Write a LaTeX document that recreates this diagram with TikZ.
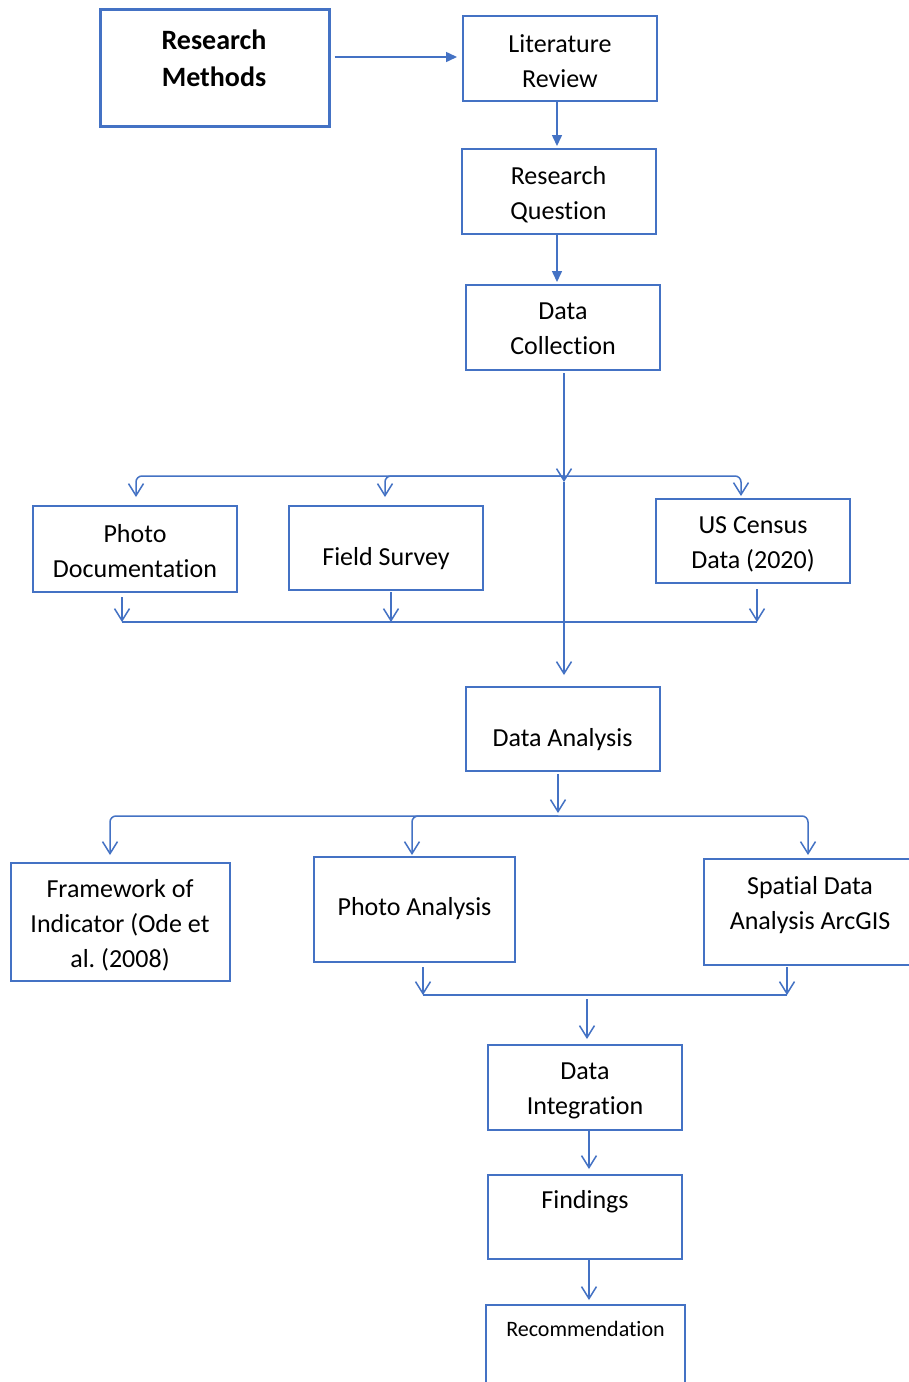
\documentclass[tikz,border=0pt]{standalone}
\usepackage{fontspec}
\setmainfont{Carlito}[Ligatures=NoCommon]
\usetikzlibrary{arrows.meta}
\definecolor{offblue}{RGB}{68,114,196}
\frenchspacing
\tikzset{
  box/.style={draw=offblue, line width=2pt, rectangle, inner sep=0pt},
  txt/.style={align=center, inner sep=0pt, font=\fontsize{26}{35}\selectfont, text=black},
  line/.style={draw=offblue, line width=1.5pt},
  fa/.style={line, -{Triangle[length=11pt,width=10pt]}},
  oa/.style={line, -{Straight Barb[length=12pt,width=15pt]}},
}
\begin{document}
\begin{tikzpicture}[x=1pt,y=-1pt]
\useasboundingbox[fill=white] (0,0) rectangle (909,1382);
% boxes
\node[box, line width=3pt, minimum width=229pt, minimum height=117pt] (rm) at (214.5,67.5) {};
\node[box, minimum width=194pt, minimum height=85pt] (lit) at (560,58.5) {};
\node[box, minimum width=194pt, minimum height=85pt] (rq) at (559,191.5) {};
\node[box, minimum width=194pt, minimum height=85pt] (dc) at (563,327.5) {};
\node[box, minimum width=204pt, minimum height=86pt] (pd) at (135,549) {};
\node[box, minimum width=194pt, minimum height=84pt] (fs) at (386,548) {};
\node[box, minimum width=194pt, minimum height=84pt] (us) at (753,541) {};
\node[box, minimum width=194pt, minimum height=84pt] (da) at (563,729) {};
\node[box, minimum width=219pt, minimum height=118pt] (fw) at (120.5,922) {};
\node[box, minimum width=201pt, minimum height=105pt] (pa) at (414.5,909.5) {};
\node[box, minimum width=209pt, minimum height=106pt] (sp) at (808.5,912) {};
\node[box, minimum width=194pt, minimum height=85pt] (di) at (585,1087.5) {};
\node[box, minimum width=194pt, minimum height=84pt] (fi) at (585,1217) {};
\node[box, minimum width=199pt, minimum height=90pt] (rec) at (585.5,1350) {};
% texts
\node[txt, font=\fontsize{28}{37}\selectfont\bfseries] (rmt) at (214,58) {Research\\Methods};
\node[txt] (litt) at (560,61.5) {Literature\\Review};
\node[txt] (rqt) at (558.5,194.5) {Research\\Question};
\node[txt] (dct) at (563,329) {Data\\Collection};
\node[txt] (pdt) at (135,551.5) {Photo\\Documentation};
\node[txt] (fst) at (386,559) {Field Survey};
\node[txt] (ust) at (753,544.5) {US Census\\Data (2020)};
\node[txt] (dat) at (562.5,740) {Data Analysis};
\node[txt] (fwt) at (120,925.5) {Framework of\\Indicator (Ode et\\al. (2008)};
\node[txt] (pat) at (414.5,909) {Photo Analysis};
\node[txt] (spt) at (810,905.5) {Spatial Data\\Analysis ArcGIS};
\node[txt] (dit) at (585,1090.5) {Data\\Integration};
\node[txt] (fit) at (585,1202) {Findings};
\node[txt, font=\fontsize{22}{28}\selectfont] (rect) at (585.5,1329) {Recommendation};
% coordinates
\coordinate (j1) at (564,476);
\coordinate (j1t) at (564,482);
\coordinate (m1L) at (122,622);
\coordinate (m1F) at (391,622);
\coordinate (m1R) at (757,622);
\coordinate (j2t) at (558,813);
\coordinate (j2) at (558,816);
\coordinate (m2L) at (423,995);
\coordinate (m2R) at (787,995);
\coordinate (m2s) at (587,999);
% top chain
\draw[fa, shorten <=4pt, shorten >=5pt] ([yshift=10.5pt]rm.east) -- ([yshift=1.5pt]lit.west);
\draw[fa, shorten >=2pt] ([xshift=-3pt]lit.south) -- ([xshift=-2pt]rq.north);
\draw[fa, shorten >=2pt] ([xshift=-2pt]rq.south) -- ([xshift=-6pt]dc.north);
% data collection trunk
\draw[oa, shorten <=2pt] ([xshift=1pt]dc.south) -- (j1t);
\draw[oa, shorten >=11pt] (j1t) -- ([xshift=1pt]da.north);
% branches 1
\draw[oa, rounded corners=6pt, shorten >=8pt] (j1) -| ([xshift=1pt]pd.north);
\draw[oa, rounded corners=6pt, shorten >=8pt] (j1) -| ([xshift=-1pt]fs.north);
\draw[oa, rounded corners=6pt, shorten >=2pt] (j1) -| ([xshift=-12pt]us.north);
% merge 1
\draw[line] (m1L) -- (m1R);
\draw[oa, shorten <=4pt] ([xshift=-13pt]pd.south) -- (m1L);
\draw[oa, shorten <=1pt] ([xshift=5pt]fs.south) -- (m1F);
\draw[oa, shorten <=5pt] ([xshift=4pt]us.south) -- (m1R);
% data analysis
\draw[oa, shorten <=2pt] ([xshift=-5pt]da.south) -- (j2t);
\draw[oa, rounded corners=6pt, shorten >=7pt] (j2) -| ([xshift=-10.5pt]fw.north);
\draw[oa, rounded corners=6pt, shorten >=1pt] (j2) -| ([xshift=-2.5pt]pa.north);
\draw[oa, rounded corners=6pt, shorten >=3pt] (j2) -| ([xshift=-0.5pt]sp.north);
% merge 2
\draw[line] (m2L) -- (m2R);
\draw[oa, shorten <=4pt] ([xshift=8.5pt]pa.south) -- (m2L);
\draw[oa, shorten <=1pt] ([xshift=-21.5pt]sp.south) -- (m2R);
\draw[oa, shorten >=5pt] (m2s) -- ([xshift=2pt]di.north);
% bottom chain
\draw[oa, shorten >=5pt] ([xshift=4pt]di.south) -- ([xshift=4pt]fi.north);
\draw[oa, shorten >=4pt] ([xshift=4pt]fi.south) -- ([xshift=3.5pt]rec.north);
\end{tikzpicture}
\end{document}
